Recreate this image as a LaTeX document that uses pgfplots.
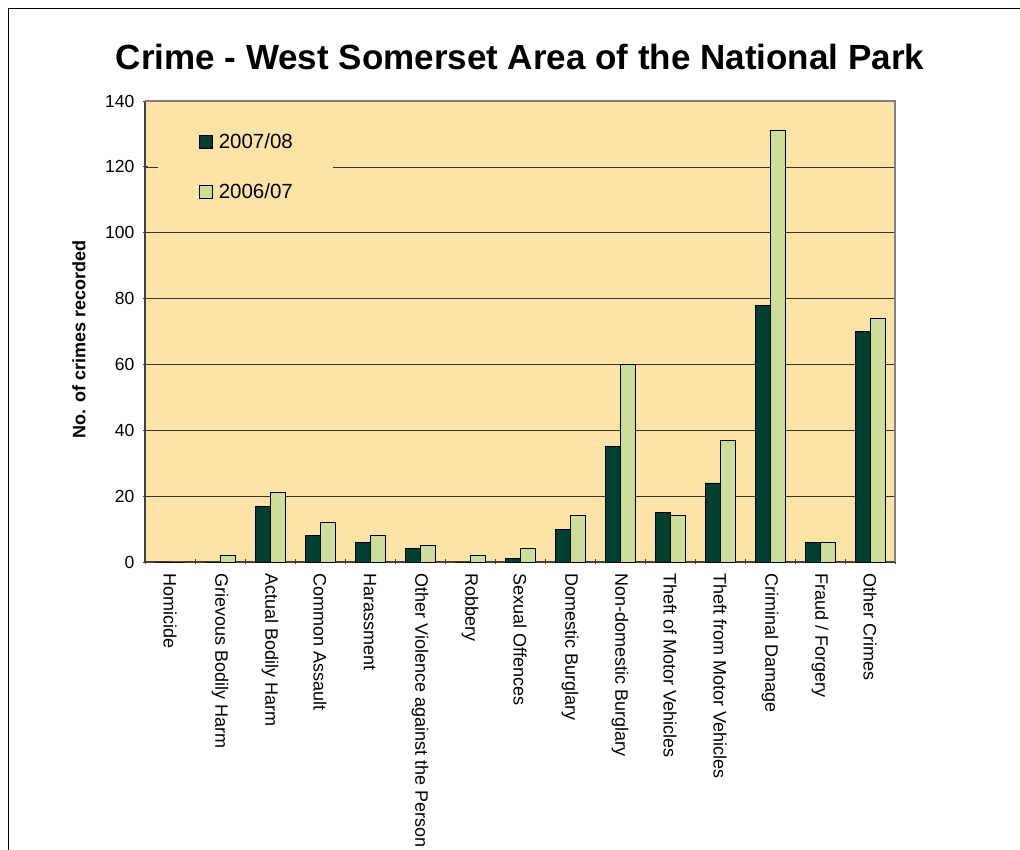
\documentclass[border=0pt]{standalone}
\usepackage{pgfplots}
\pgfplotsset{compat=1.18}
\usepackage{pgfplotstable}
\usepackage{fontspec}
\setmainfont{Liberation Sans}
\definecolor{bg}{RGB}{253,228,166}
\definecolor{darkg}{RGB}{0,64,48}
\definecolor{lightg}{RGB}{204,221,153}
\pgfplotstableread{
x a b
0 0 0
1 0 2
2 17 21
3 8 12
4 6 8
5 4 5
6 0 2
7 1 4
8 10 14
9 35 60
10 15 14
11 24 37
12 78 131
13 6 6
14 70 74
}\crimedata
\begin{document}
\begin{tikzpicture}[x=1pt,y=1pt]
\useasboundingbox (0,0) rectangle (1020,850);
\draw[black, line width=1.2pt] (8.5,-2) -- (8.5,841.5) -- (1022,841.5);
\node[font=\fontsize{35}{40}\selectfont\bfseries] at (520,793) {Crime - West Somerset Area of the National Park};
\begin{axis}[
  at={(145pt,288pt)}, anchor=south west,
  scale only axis, width=750pt, height=461pt,
  axis background/.style={fill=bg},
  ybar=0pt, bar width=15pt,
  xmin=-0.5, xmax=14.5, ymin=0, ymax=140,
  ytick={0,20,...,140},
  xtick={0,...,14},
  xticklabels={Homicide,Grievous Bodily Harm,Actual Bodily Harm,Common Assault,Harassment,Other Violence against the Person,Robbery,Sexual Offences,Domestic Burglary,Non-domestic Burglary,Theft of Motor Vehicles,Theft from Motor Vehicles,Criminal Damage,Fraud / Forgery,Other Crimes},
  minor xtick={-0.5,0.5,...,14.5},
  major x tick style={draw=none},
  tick align=outside,
  major tick length=5pt, minor tick length=5pt,
  axis lines=left,
  axis line style={-, black!75, line width=1.2pt},
  tick style={black!75, line width=0.8pt},
  ymajorgrids,
  grid style={black!80, line width=0.6pt},
  /pgf/number format/assume math mode=true,
  yticklabel style={font=\fontsize{17.5}{20}\selectfont, inner sep=0pt, xshift=-8pt},
  xticklabel style={font=\fontsize{18}{21}\selectfont, rotate=-90, anchor=west, inner sep=0pt},
  xticklabel shift=9pt,
  ylabel={No. of crimes recorded},
  every axis y label/.style={at={(-66pt,0.483)}, rotate=90, anchor=center, font=\fontsize{18}{21}\selectfont\bfseries},
  legend style={at={(0.017,0.947)}, anchor=north west, draw=none, fill=bg,
    font=\fontsize{20.5}{24}\selectfont, row sep=30pt, inner xsep=38pt, inner ysep=6pt},
  legend cell align=left,
  legend image code/.code={\path (0pt,0pt) (20pt,0pt);\draw[#1, line width=0.8pt] (3pt,-6.5pt) rectangle (16pt,6.5pt);},
  clip=false,
]
\addplot[fill=darkg, draw=black, line width=0.8pt] table[x=x,y=a]{\crimedata};
\addplot[fill=lightg, draw=black, line width=0.8pt] table[x=x,y=b]{\crimedata};
\legend{2007/08,2006/07}
\draw[gray, line width=1.2pt] (axis description cs:0,1) -- (axis description cs:1,1) -- (axis description cs:1,0);
\end{axis}
\end{tikzpicture}
\end{document}
